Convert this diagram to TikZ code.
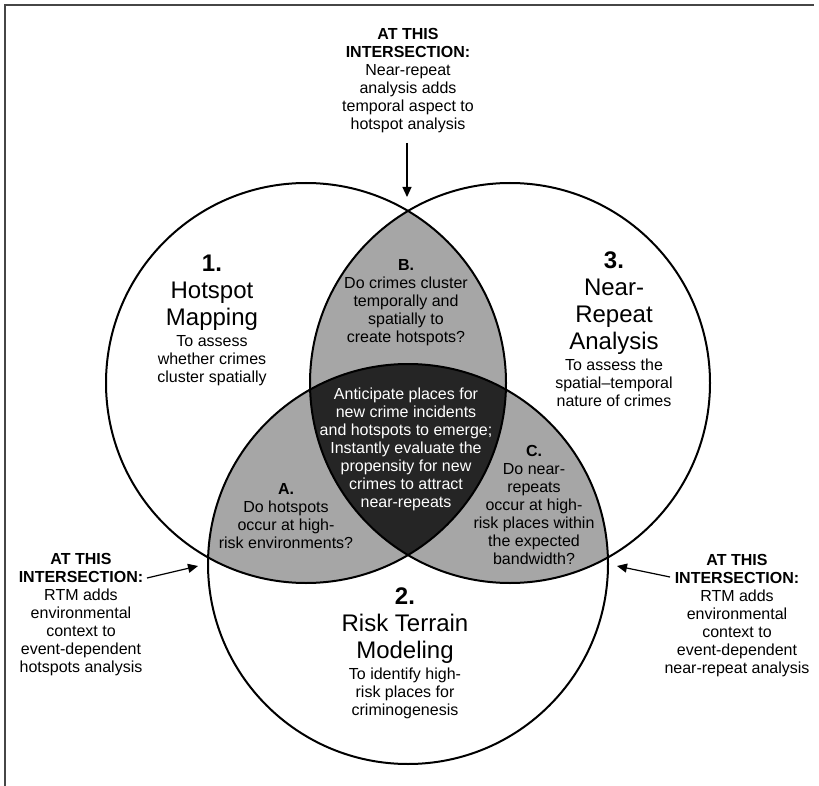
\documentclass[tikz,border=0pt]{standalone}
\usepackage{fontspec}
\setmainfont{Liberation Sans}
\usetikzlibrary{arrows.meta}
\definecolor{lensgray}{RGB}{166,166,166}
\definecolor{coredark}{RGB}{37,37,37}
\definecolor{framegray}{RGB}{70,70,70}
\begin{document}
\begin{tikzpicture}[x=1pt,y=-1pt,
  txt/.style={align=center, inner sep=0pt, font=\fontsize{16}{18}\selectfont},
  ttl/.style={align=center, inner sep=0pt, font=\fontsize{24}{27}\selectfont},
  ring/.style={draw=black, line width=2pt},
  arr/.style={line width=1.2pt, -{Triangle[length=10pt,width=9pt]}}]
\useasboundingbox (0,0) rectangle (819,786);
\fill[white] (0,0) rectangle (819,786);
\draw[framegray, line width=1.5pt] (5,786) -- (5,5) -- (814,5);

\coordinate (c1) at (306,383);
\coordinate (c3) at (510,383);
\coordinate (c2) at (408,564);

% pairwise overlaps
\begin{scope}
  \clip (c1) circle[radius=200pt];
  \fill[lensgray] (c2) circle[radius=200pt];
  \fill[lensgray] (c3) circle[radius=200pt];
\end{scope}
\begin{scope}
  \clip (c2) circle[radius=200pt];
  \fill[lensgray] (c3) circle[radius=200pt];
\end{scope}
% triple overlap
\begin{scope}
  \clip (c1) circle[radius=200pt];
  \clip (c2) circle[radius=200pt];
  \fill[coredark] (c3) circle[radius=200pt];
\end{scope}
\draw[ring] (c1) circle[radius=200pt];
\draw[ring] (c2) circle[radius=200pt];
\draw[ring] (c3) circle[radius=200pt];

% texts
\node[txt] (toplab) at (408,81) {\textbf{AT THIS}\\\textbf{INTERSECTION:}\\Near-repeat\\analysis adds\\temporal aspect to\\hotspot analysis};
\node[txt] (leftlab) at (81,615) {\textbf{AT THIS}\\\textbf{INTERSECTION:}\\RTM adds\\environmental\\context to\\event-dependent\\hotspots analysis};
\node[txt] (rightlab) at (737,616) {\textbf{AT THIS}\\\textbf{INTERSECTION:}\\RTM adds\\environmental\\context to\\event-dependent\\near-repeat analysis};

\node[ttl] (t1) at (212,293) {\textbf{1.}\\Hotspot\\Mapping};
\node[txt] (s1) at (212,361) {To assess\\whether crimes\\cluster spatially};
\node[ttl] (t3) at (614,303) {\textbf{3.}\\Near-\\Repeat\\Analysis};
\node[txt] (s3) at (614,383) {To assess the\\spatial–temporal\\nature of crimes};
\node[ttl] (t2) at (405,626) {\textbf{2.}\\Risk Terrain\\Modeling};
\node[txt] (s2) at (405,693) {To identify high-\\risk places for\\criminogenesis};

\node[txt] (qb) at (406,303) {\textbf{B.}\\Do crimes cluster\\temporally and\\spatially to\\create hotspots?};
\node[txt, text=white] (core) at (406,449) {Anticipate places for\\new crime incidents\\and hotspots to emerge;\\Instantly evaluate the\\propensity for new\\crimes to attract\\near-repeats};
\node[txt] (qa) at (286,516) {\textbf{A.}\\Do hotspots\\occur at high-\\risk environments?};
\node[txt] (qc) at (534,505) {\textbf{C.}\\Do near-\\repeats\\occur at high-\\risk places within\\the expected\\bandwidth?};

% arrows
\coordinate (ttip) at (407,197);
\coordinate (tstart) at (407,143);
\coordinate (lstart) at (147,578);
\coordinate (ltip) at (198,566);
\coordinate (rstart) at (670,577);
\coordinate (rtip) at (617,566);
\draw[arr] (tstart) -- (ttip);
\draw[arr] (lstart) -- (ltip);
\draw[arr] (rstart) -- (rtip);
\end{tikzpicture}
\end{document}
